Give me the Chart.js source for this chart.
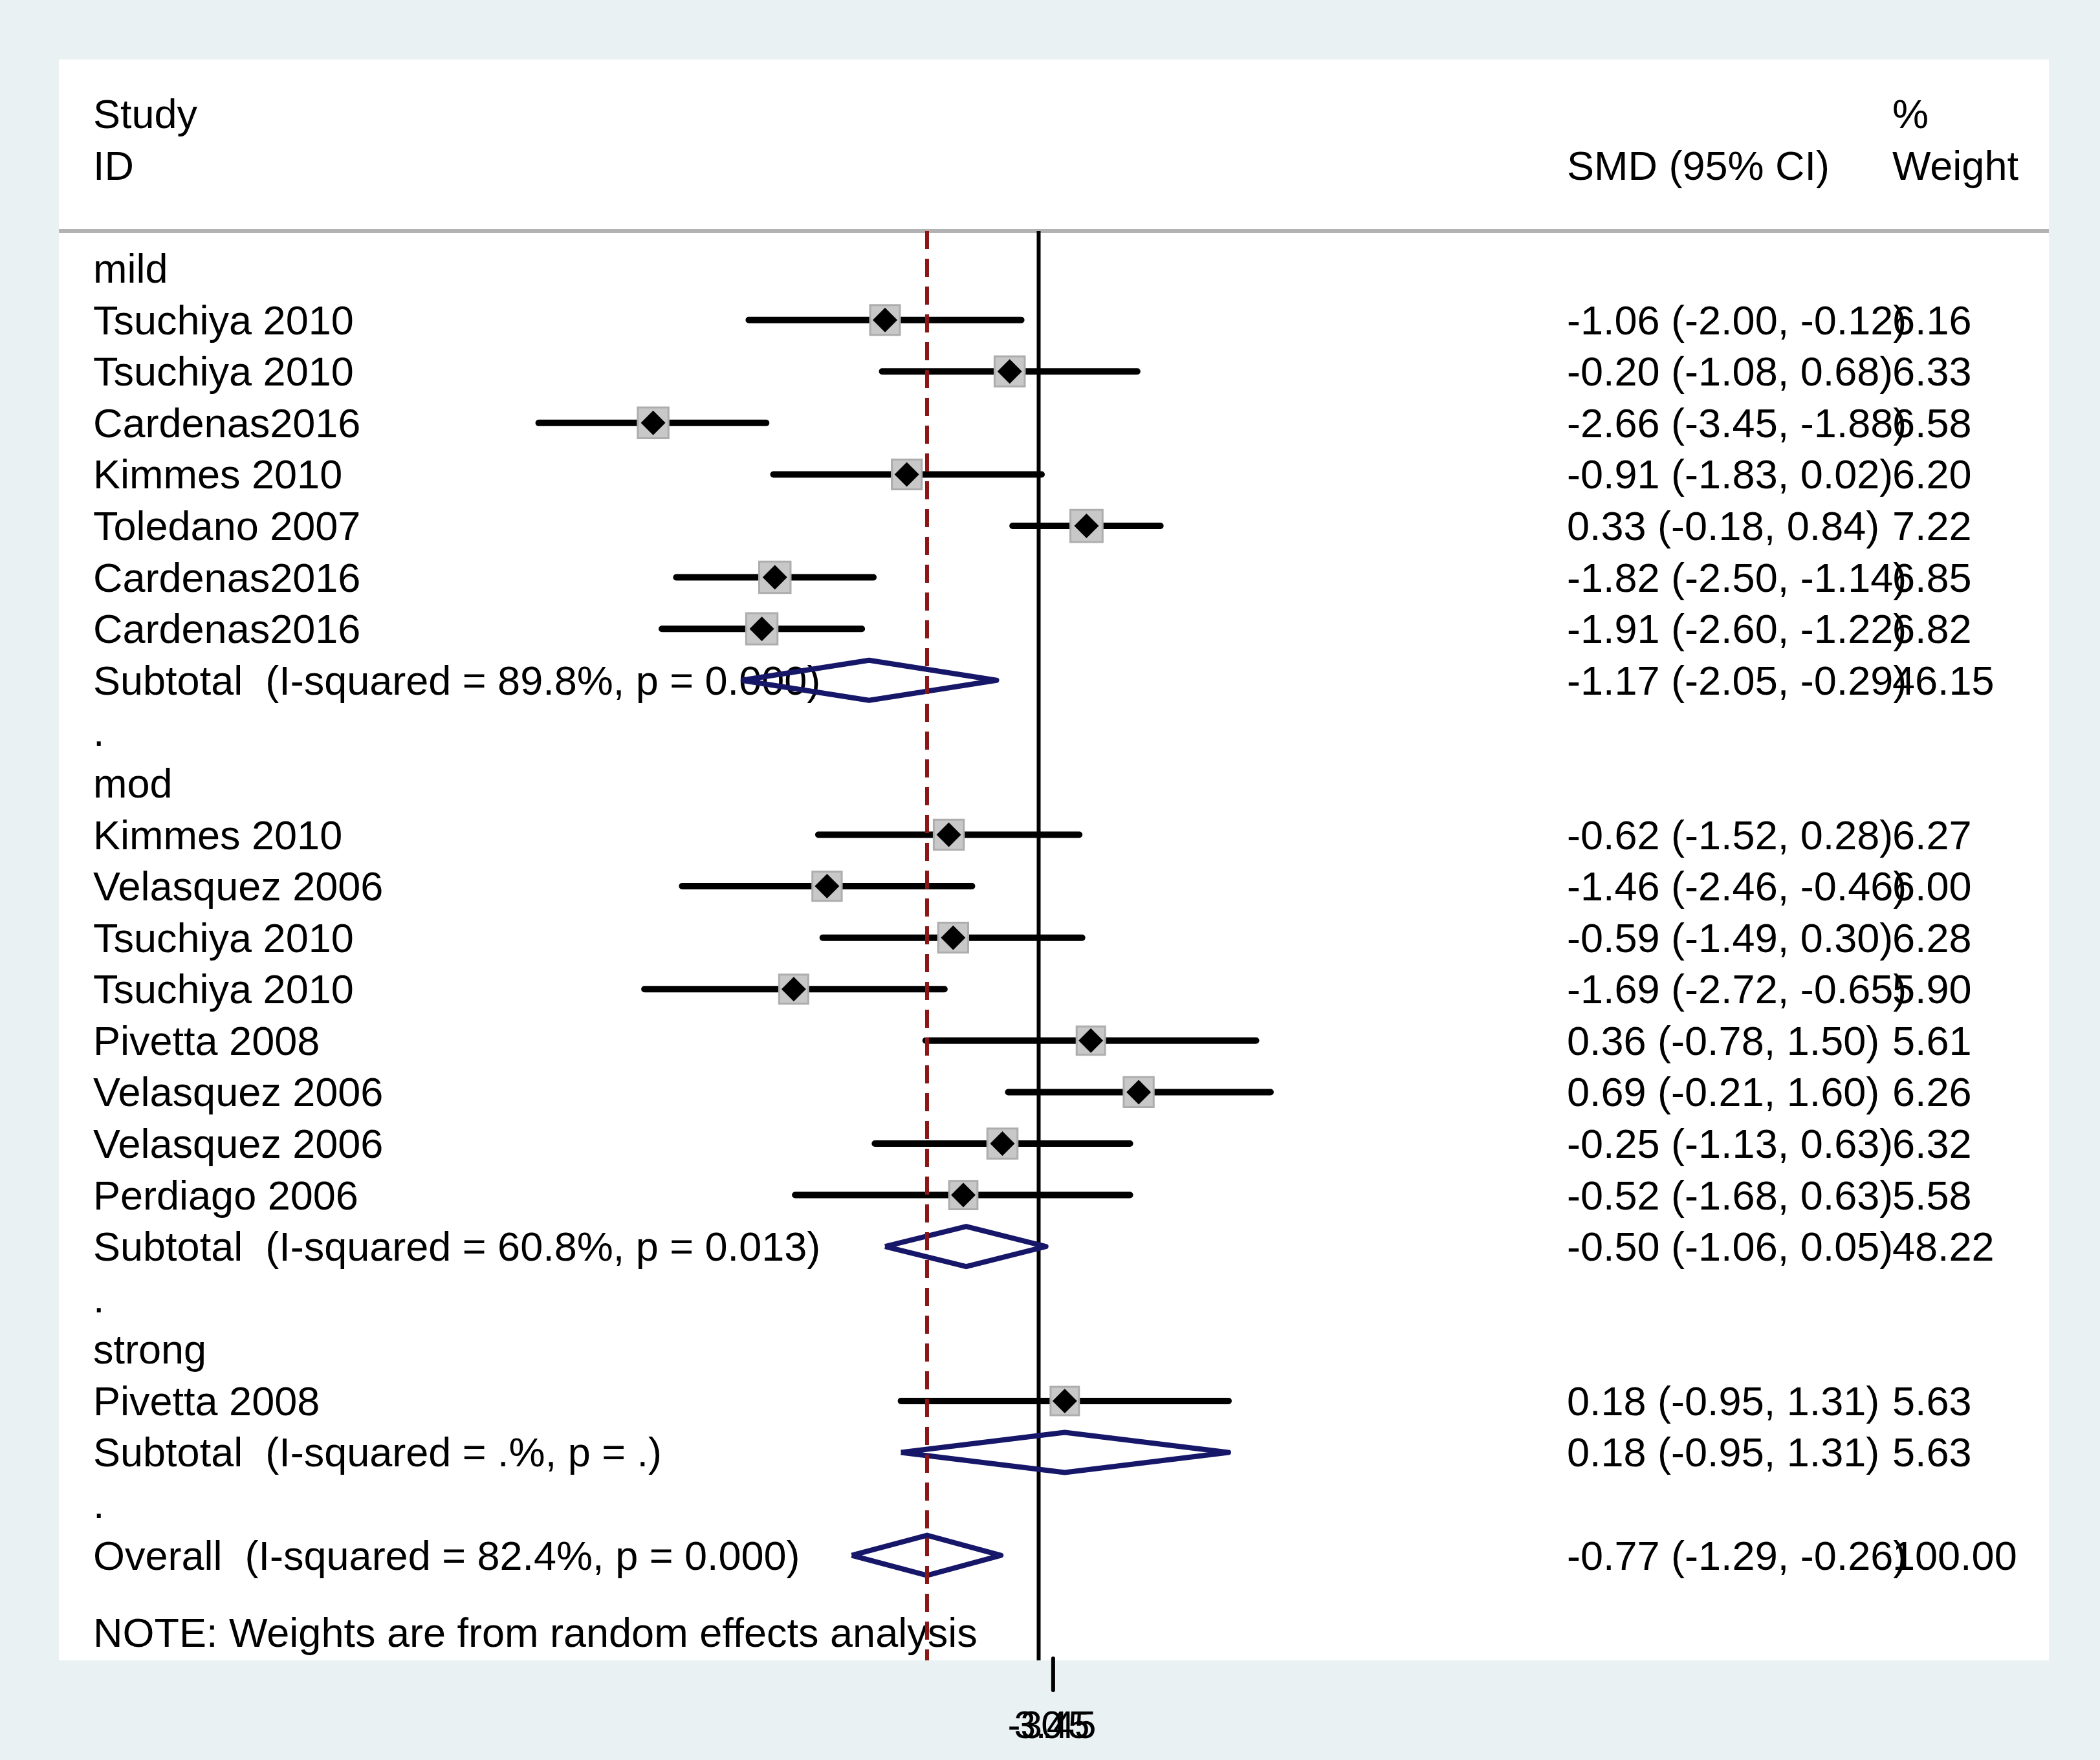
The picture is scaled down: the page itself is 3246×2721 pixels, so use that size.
<!DOCTYPE html>
<html>
<head>
<meta charset="utf-8">
<script src="https://cdn.jsdelivr.net/npm/chart.js@4.4.1/dist/chart.umd.min.js"></script>
<style>
  html, body { margin: 0; padding: 0; background: #e9f1f3; }
  canvas { display: block; }
</style>
</head>
<body>
<canvas id="forest" width="3246" height="2721"></canvas>
<script>
// individual studies, in the order they appear
var groupNames = ['mild', 'mod', 'strong'];
var studyGroup = [0, 0, 0, 0, 0, 0, 0, 1, 1, 1, 1, 1, 1, 1, 1, 2];
var studyNames = ['Tsuchiya 2010', 'Tsuchiya 2010', 'Cardenas2016', 'Kimmes 2010', 'Toledano 2007', 'Cardenas2016', 'Cardenas2016',
  'Kimmes 2010', 'Velasquez 2006', 'Tsuchiya 2010', 'Tsuchiya 2010', 'Pivetta 2008', 'Velasquez 2006', 'Velasquez 2006', 'Perdiago 2006',
  'Pivetta 2008'];
var smd     = [-1.06, -0.20, -2.66, -0.91, 0.33, -1.82, -1.91, -0.62, -1.46, -0.59, -1.69, 0.36, 0.69, -0.25, -0.52, 0.18];
var ciLow   = [-2.00, -1.08, -3.45, -1.83, -0.18, -2.50, -2.60, -1.52, -2.46, -1.49, -2.72, -0.78, -0.21, -1.13, -1.68, -0.95];
var ciHigh  = [-0.12, 0.68, -1.88, 0.02, 0.84, -1.14, -1.22, 0.28, -0.46, 0.30, -0.65, 1.50, 1.60, 0.63, 0.63, 1.31];
var weights = [6.16, 6.33, 6.58, 6.20, 7.22, 6.85, 6.82, 6.27, 6.00, 6.28, 5.90, 5.61, 6.26, 6.32, 5.58, 5.63];

// pooled subgroup estimates
var subHet    = ['I-squared = 89.8%, p = 0.000', 'I-squared = 60.8%, p = 0.013', 'I-squared = .%, p = .'];
var subSmd    = [-1.17, -0.50, 0.18];
var subLow    = [-2.05, -1.06, -0.95];
var subHigh   = [-0.29, 0.05, 1.31];
var subWeight = [46.15, 48.22, 5.63];

// overall
var overallHet = 'I-squared = 82.4%, p = 0.000';
var overallSmd = -0.77, overallLow = -1.29, overallHigh = -0.26, overallWeight = 100.00;

var tickLabels = ['-3.45', '0', '3.45'];
var noteText = 'NOTE: Weights are from random effects analysis';

// scale window (the white panel is the chart area)
var X_MIN = -6.76, X_MAX = 6.97;
var Y_MIN = -4.06, Y_MAX = 27.04;
var SEP_ROW = -0.73, NOTE_ROW = 26.5, TICK_AT = 0.1;
var DIAMOND_H = 0.39;

var FONT = '63px "Liberation Sans", Arial, sans-serif';
var TICK_FONT = '60px "Liberation Sans", Arial, sans-serif';
var LEFT_X = 144, SMD_X = 2422, WT_X = 2925, BASE_SHIFT = 22;

function f2(v) { return v.toFixed(2); }
function ciText(e, lo, hi) { return f2(e) + ' (' + f2(lo) + ', ' + f2(hi) + ')'; }

// build the row layout
var rows = [];
var studyRow = [], subRow = [];
groupNames.forEach(function (g, gi) {
  rows.push({ label: g });
  studyGroup.forEach(function (sg, si) {
    if (sg === gi) {
      studyRow[si] = rows.length;
      rows.push({ label: studyNames[si], ci: ciText(smd[si], ciLow[si], ciHigh[si]), wt: f2(weights[si]) });
    }
  });
  subRow[gi] = rows.length;
  rows.push({ label: 'Subtotal  (' + subHet[gi] + ')', ci: ciText(subSmd[gi], subLow[gi], subHigh[gi]), wt: f2(subWeight[gi]) });
  rows.push({ label: '.' });
});
var overallRow = rows.length;
rows.push({ label: 'Overall  (' + overallHet + ')', ci: ciText(overallSmd, overallLow, overallHigh), wt: f2(overallWeight) });

// CI segments, separated by gaps
var ciData = [];
smd.forEach(function (v, i) {
  ciData.push({ x: ciLow[i], y: studyRow[i] }, { x: ciHigh[i], y: studyRow[i] }, { x: null, y: null });
});

// pooled diamonds
var diamondData = [];
function addDiamond(e, lo, hi, r) {
  diamondData.push({ x: lo, y: r }, { x: e, y: r - DIAMOND_H }, { x: hi, y: r }, { x: e, y: r + DIAMOND_H }, { x: lo, y: r }, { x: null, y: null });
}
subSmd.forEach(function (v, gi) { addDiamond(v, subLow[gi], subHigh[gi], subRow[gi]); });
addDiamond(overallSmd, overallLow, overallHigh, overallRow);

var pointData = smd.map(function (v, i) { return { x: v, y: studyRow[i] }; });

var forestText = {
  id: 'forestText',
  beforeDraw: function (chart) {
    var a = chart.chartArea, ctx = chart.ctx;
    ctx.save();
    ctx.fillStyle = '#ffffff';
    ctx.fillRect(a.left, a.top, a.right - a.left, a.bottom - a.top);
    ctx.restore();
  },
  beforeDatasetsDraw: function (chart) {
    var ctx = chart.ctx, ys = chart.scales.y;
    ctx.save();
    ctx.font = FONT;
    ctx.fillStyle = '#000000';
    ctx.textAlign = 'left';
    ctx.textBaseline = 'alphabetic';
    function put(txt, x, row) { ctx.fillText(txt, x, ys.getPixelForValue(row) + BASE_SHIFT); }

    put('Study', LEFT_X, -3);
    put('ID', LEFT_X, -2);
    put('SMD (95% CI)', SMD_X, -2);
    put('%', WT_X, -3);
    put('Weight', WT_X, -2);

    rows.forEach(function (r, i) {
      put(r.label, LEFT_X, i);
      if (r.ci) put(r.ci, SMD_X, i);
      if (r.wt) put(r.wt, WT_X, i);
    });
    put(noteText, LEFT_X, NOTE_ROW);
    ctx.restore();
  },
  afterDraw: function (chart) {
    var ctx = chart.ctx, xs = chart.scales.x, a = chart.chartArea;
    var tx = xs.getPixelForValue(TICK_AT);
    ctx.save();
    ctx.strokeStyle = '#000000';
    ctx.lineWidth = 6;
    ctx.lineCap = 'round';
    ctx.beginPath();
    ctx.moveTo(tx, a.bottom - 3);
    ctx.lineTo(tx, a.bottom + 46);
    ctx.stroke();
    ctx.font = TICK_FONT;
    ctx.fillStyle = '#000000';
    ctx.textAlign = 'center';
    tickLabels.forEach(function (t) { ctx.fillText(t, tx - 2, a.bottom + 120); });
    ctx.restore();
  }
};

new Chart(document.getElementById('forest'), {
  type: 'scatter',
  data: {
    datasets: [
      {
        // overall effect reference line
        type: 'line',
        data: [{ x: overallSmd, y: SEP_ROW }, { x: overallSmd, y: Y_MAX }],
        borderColor: '#8c1515',
        borderWidth: 6,
        borderDash: [28, 15],
        pointRadius: 0,
        order: 0
      },
      {
        type: 'line',
        data: diamondData,
        borderColor: '#17176a',
        borderWidth: 8,
        borderJoinStyle: 'round',
        fill: false,
        pointRadius: 0,
        spanGaps: false,
        order: 1
      },
      {
        data: pointData,
        pointStyle: 'rectRot',
        pointRadius: 19,
        backgroundColor: '#000000',
        borderWidth: 0,
        order: 2
      },
      {
        data: pointData,
        pointStyle: 'rect',
        pointRadius: function (c) { return 32.5 * Math.sqrt(weights[c.dataIndex] / 6.16); },
        backgroundColor: '#c8c8c8',
        borderColor: '#adadad',
        borderWidth: 3,
        order: 3
      },
      {
        type: 'line',
        data: ciData,
        borderColor: '#000000',
        borderWidth: 10,
        borderCapStyle: 'round',
        pointRadius: 0,
        spanGaps: false,
        order: 4
      },
      {
        // line of no effect
        type: 'line',
        data: [{ x: 0, y: SEP_ROW }, { x: 0, y: Y_MAX }],
        borderColor: '#000000',
        borderWidth: 6,
        pointRadius: 0,
        order: 5
      },
      {
        // header rule
        type: 'line',
        data: [{ x: X_MIN, y: SEP_ROW }, { x: X_MAX, y: SEP_ROW }],
        borderColor: '#b3b3b3',
        borderWidth: 6,
        pointRadius: 0,
        order: 6
      }
    ]
  },
  options: {
    responsive: false,
    devicePixelRatio: 1,
    animation: false,
    events: [],
    layout: { padding: { left: 91, right: 79, top: 92, bottom: 154 } },
    plugins: { legend: { display: false }, tooltip: { enabled: false } },
    scales: {
      x: { type: 'linear', min: X_MIN, max: X_MAX, display: false },
      y: { type: 'linear', min: Y_MIN, max: Y_MAX, reverse: true, display: false }
    }
  },
  plugins: [forestText]
});
</script>
</body>
</html>
